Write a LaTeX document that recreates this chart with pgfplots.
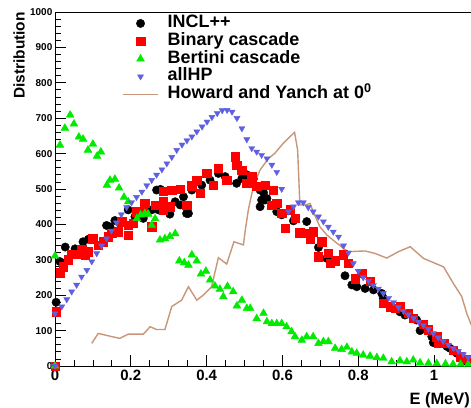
\documentclass[border=0pt]{standalone}
\usepackage{fontspec}
\setmainfont{Liberation Sans}
\usepackage{pgfplots}
\pgfplotsset{compat=1.18}
\definecolor{howard}{RGB}{200,150,120}
\definecolor{hpblue}{RGB}{95,95,225}
\definecolor{bgreen}{RGB}{0,235,0}
\begin{document}
\begin{tikzpicture}
\begin{axis}[
 at={(55bp,42bp)}, anchor=south west,
 scale only axis, width=417bp, height=354bp,
 xmin=0, xmax=1.1, ymin=0, ymax=1000,
 axis line style={black, line width=0.8bp},
 tick pos=left, tick align=inside,
 xtick={0,0.2,0.4,0.6,0.8,1}, minor x tick num=3,
 ytick={0,100,...,1000}, minor y tick num=4,
 major tick length=11bp, minor tick length=5.5bp,
 tick style={black, line width=0.8bp},
 /pgf/number format/assume math mode=true,
 /pgf/number format/1000 sep={},
 xticklabel style={font=\fontsize{15}{17}\selectfont\bfseries, inner sep=0pt, anchor=north, yshift=-4bp},
 yticklabel style={font=\fontsize{10}{12}\selectfont\bfseries, inner sep=0pt, anchor=east, xshift=-2.5bp},
 xlabel={E (MeV)}, ylabel={Distribution},
 every axis x label/.style={at={(axis description cs:1,0)}, anchor=north east, inner sep=0pt, xshift=-2bp, yshift=-26bp, font=\fontsize{16.5}{18}\selectfont\bfseries},
 every axis y label/.style={at={(axis description cs:-0.072,1)}, rotate=90, anchor=south east, inner sep=0pt, font=\fontsize{15.5}{17}\selectfont\bfseries},
 legend style={at={(axis description cs:0.161,1)}, anchor=north west, yshift=-3bp, draw=none, fill=none, inner sep=0pt, column sep=9bp, font=\fontsize{18}{20}\selectfont\bfseries, nodes={inner sep=0pt, text height=12.5bp, text depth=4bp}, row sep=1.2bp},
 legend cell align=left,
 legend image code/.code={\draw[mark repeat=2,mark phase=2,#1] plot coordinates {(0bp,0bp) (17.5bp,0bp) (35bp,0bp)};},
]
% INCL++
\addplot[only marks, mark=*, mark size=4.2bp, black] table {
0.003 180
0.013 295
0.027 336
0.053 331
0.074 351
0.088 358
0.136 397
0.145 393
0.158 411
0.193 441
0.211 422
0.233 417
0.255 441
0.268 497
0.278 499
0.273 441
0.303 429
0.317 464
0.330 455
0.339 478
0.347 431
0.352 431
0.361 497
0.387 511
0.409 525
0.431 544
0.449 535
0.479 516
0.493 530
0.506 540
0.523 528
0.541 497
0.545 469
0.550 490
0.554 469
0.541 450
0.559 473
0.585 436
0.598 427
0.629 410
0.664 408
0.695 335
0.695 311
0.717 304
0.765 255
0.783 229
0.796 224
0.818 219
0.840 215
0.862 205
0.866 191
0.910 153
0.923 144
0.954 130
0.963 100
0.994 83
0.998 66
1.034 55
1.042 50
1.060 36
1.080 15
};
\addlegendentry{INCL++}
% Binary cascade
\addplot[only marks, mark=square*, mark size=4.2bp, red] table {
0.000 0
0.003 153
0.013 264
0.022 280
0.035 300
0.044 316
0.062 316
0.070 328
0.079 314
0.088 323
0.099 360
0.114 342
0.127 351
0.141 365
0.150 375
0.167 379
0.176 408
0.193 370
0.193 398
0.207 403
0.216 436
0.233 436
0.237 460
0.255 393
0.264 455
0.286 464
0.286 441
0.303 450
0.286 494
0.308 497
0.330 499
0.347 455
0.361 509
0.374 525
0.383 488
0.400 544
0.418 510
0.431 558
0.453 525
0.475 591
0.479 567
0.493 553
0.506 516
0.519 535
0.532 508
0.554 511
0.572 455
0.576 497
0.585 460
0.598 431
0.607 389
0.620 441
0.633 417
0.646 377
0.660 375
0.673 360
0.681 379
0.695 309
0.704 351
0.721 318
0.726 290
0.739 297
0.761 314
0.774 290
0.792 247
0.809 262
0.831 240
0.866 177
0.884 168
0.897 163
0.910 168
0.932 149
0.945 135
0.972 118
0.985 102
1.007 83
1.011 64
1.025 64
1.051 45
1.069 26
1.086 20
};
\addlegendentry{Binary cascade}
% Bertini cascade
\addplot[only marks, mark=triangle*, mark size=4.5bp, bgreen] table {
0.000 0
0.000 311
0.013 624
0.026 672
0.040 709
0.050 684
0.063 647
0.074 641
0.087 610
0.100 627
0.111 593
0.121 605
0.137 511
0.145 525
0.158 528
0.169 503
0.182 477
0.193 464
0.216 417
0.226 427
0.237 431
0.246 429
0.255 398
0.264 416
0.277 356
0.290 360
0.303 366
0.317 374
0.328 297
0.341 292
0.352 285
0.361 314
0.374 297
0.385 260
0.398 268
0.409 243
0.422 226
0.435 217
0.444 196
0.455 225
0.470 210
0.480 170
0.493 186
0.506 163
0.515 163
0.532 134
0.550 149
0.559 125
0.572 120
0.585 120
0.598 120
0.611 111
0.624 97
0.633 83
0.651 73
0.664 83
0.681 83
0.695 64
0.708 69
0.721 69
0.739 50
0.756 47
0.770 53
0.783 40
0.796 36
0.813 31
0.831 28
0.849 24
0.866 22
0.888 12
0.910 15
0.928 12
0.945 17
0.963 9
0.985 8
1.007 7
1.030 6
1.050 5
1.070 5
1.090 5
};
\addlegendentry{Bertini cascade}
% allHP
\addplot[only marks, mark=triangle*, mark options={rotate=180}, mark size=3.5bp, hpblue] table {
0.000 0
0.000 148
0.018 168
0.031 188
0.044 210
0.057 229
0.070 252
0.084 271
0.097 295
0.110 318
0.123 340
0.136 360
0.149 382
0.162 405
0.175 428
0.189 448
0.202 462
0.215 477
0.229 492
0.242 510
0.255 525
0.268 540
0.282 555
0.295 572
0.308 590
0.321 610
0.335 625
0.348 637
0.361 648
0.374 662
0.388 676
0.401 690
0.414 703
0.428 714
0.441 722
0.454 723
0.467 718
0.480 700
0.493 671
0.506 640
0.519 615
0.532 605
0.545 596
0.559 586
0.572 568
0.585 548
0.598 500
0.616 436
0.629 450
0.642 462
0.655 462
0.668 448
0.681 436
0.695 422
0.708 408
0.721 393
0.734 379
0.748 365
0.761 340
0.774 320
0.787 290
0.800 268
0.813 250
0.827 240
0.840 228
0.853 218
0.866 205
0.880 192
0.893 180
0.906 166
0.919 155
0.932 145
0.946 135
0.959 125
0.972 115
0.985 104
0.998 92
1.011 80
1.024 70
1.038 60
1.051 50
1.064 42
1.077 33
1.090 24
};
\addlegendentry{allHP}
% Howard and Yanch
\addplot[howard, line width=1.4bp, mark=none] table {
0.097 64
0.114 92
0.150 83
0.171 78
0.193 90
0.233 90
0.251 111
0.268 103
0.290 103
0.308 168
0.334 186
0.352 224
0.374 186
0.391 200
0.413 224
0.431 306
0.453 288
0.472 351
0.497 342
0.502 384
0.510 441
0.523 506
0.541 554
0.563 586
0.580 601
0.602 629
0.620 648
0.632 660
0.640 610
0.646 455
0.660 455
0.673 459
0.681 436
0.699 393
0.717 370
0.739 351
0.761 332
0.774 323
0.818 325
0.844 318
0.875 305
0.906 323
0.937 337
0.972 304
1.025 280
1.051 233
1.073 196
1.086 149
1.100 111
};
\addlegendentry{Howard and Yanch at 0\textsuperscript{0}}
\end{axis}
\pgfresetboundingbox
\useasboundingbox (0,0) rectangle (471bp,408bp);
\end{tikzpicture}
\end{document}
